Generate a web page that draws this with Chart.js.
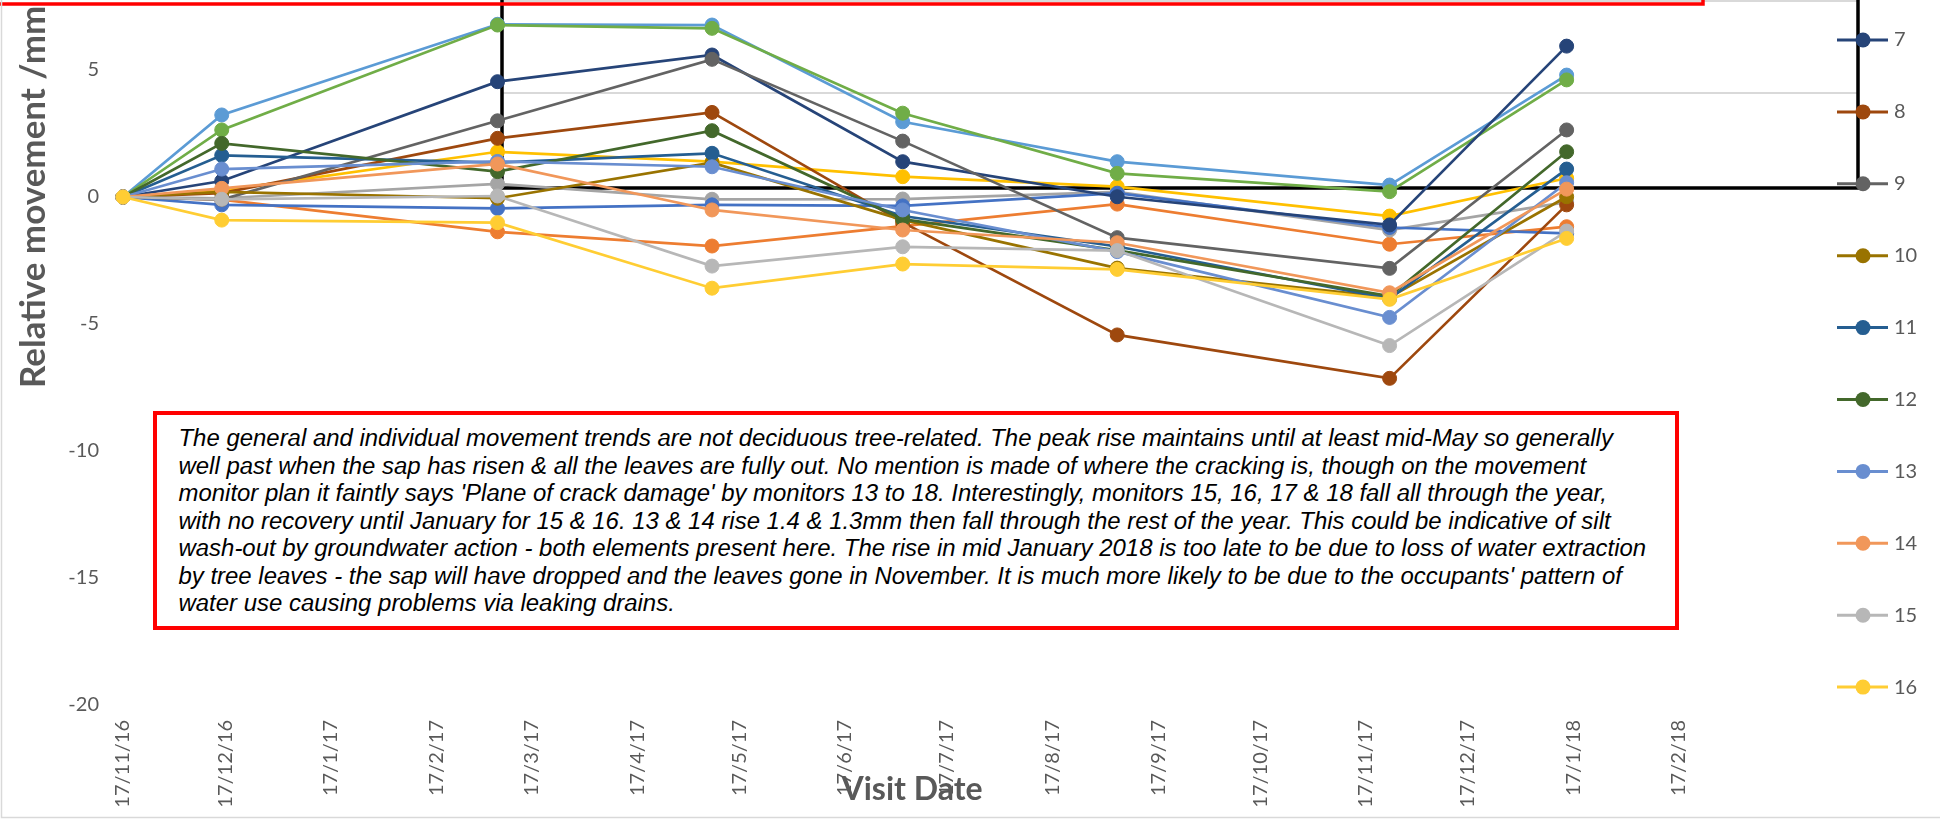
<!DOCTYPE html>
<html>
<head>
<meta charset="utf-8">
<title>Relative movement by visit date</title>
<script src="https://cdn.jsdelivr.net/npm/chart.js@4.4.1/dist/chart.umd.min.js"></script>
<style>
  html, body { margin: 0; padding: 0; background: #fff; width: 1940px; height: 819px; overflow: hidden; }
  #wrap { position: absolute; left: 0; top: -80px; width: 1940px; height: 899px; }
  #note {
    position: absolute; left: 152.5px; top: 410.7px; width: 1526px; height: 219.6px;
    box-sizing: border-box; border: 4px solid #ff0000; background: #fff;
    padding: 9.5px 0 0 22px;
    font: italic 23.95px "Liberation Sans", Arial, sans-serif; color: #000;
    line-height: 27.5px; white-space: pre;
  }
</style>
</head>
<body>
<div id="wrap"><canvas id="chart" width="1940" height="899"></canvas></div>
<div id="note"><div>The general and individual movement trends are not deciduous tree-related. The peak rise maintains until at least mid-May so generally</div><div>well past when the sap has risen &amp; all the leaves are fully out. No mention is made of where the cracking is, though on the movement</div><div>monitor plan it faintly says 'Plane of crack damage' by monitors 13 to 18. Interestingly, monitors 15, 16, 17 &amp; 18 fall all through the year,</div><div>with no recovery until January for 15 &amp; 16. 13 &amp; 14 rise 1.4 &amp; 1.3mm then fall through the rest of the year. This could be indicative of silt</div><div>wash-out by groundwater action - both elements present here. The rise in mid January 2018 is too late to be due to loss of water extraction</div><div>by tree leaves - the sap will have dropped and the leaves gone in November. It is much more likely to be due to the occupants' pattern of</div><div>water use causing problems via leaking drains.</div></div>
<script>
// Visit dates (d/m/yy) and monthly axis ticks
const visitDates = ['17/11/16', '16/12/16', '7/3/17', '9/5/17', '4/7/17', '5/9/17', '24/11/17', '15/1/18'];
const tickDates = ['17/11/16', '17/12/16', '17/1/17', '17/2/17', '17/3/17', '17/4/17', '17/5/17', '17/6/17',
                   '17/7/17', '17/8/17', '17/9/17', '17/10/17', '17/11/17', '17/12/17', '17/1/18', '17/2/18'];
const yTicks = [-20, -15, -10, -5, 0, 5, 10];

// Relative movement (mm) per monitor at each visit
const monitorNames = ['1', '2', '3', '4', '5', '6', '7', '8', '9', '10', '11', '12', '13', '14', '15', '16'];
const monitor1  = [0,  3.23,  6.80,  6.77,  2.96,  1.39,  0.47,  4.80];
const monitor2  = [0, -0.10, -1.37, -1.93, -1.15, -0.28, -1.86, -1.17];
const monitor3  = [0, -0.05,  0.52, -0.09, -0.08,  0.20, -1.30, -0.20];
const monitor4  = [0,  0.25,  1.78,  1.39,  0.80,  0.41, -0.75,  0.74];
const monitor5  = [0, -0.31, -0.45, -0.31, -0.35,  0.15, -1.20, -1.43];
const monitor6  = [0,  2.64,  6.77,  6.64,  3.30,  0.93,  0.21,  4.61];
const monitor7  = [0,  0.63,  4.54,  5.59,  1.39,  0.01, -1.10,  5.94];
const monitor8  = [0,  0.15,  2.31,  3.33, -1.00, -5.43, -7.14, -0.31];
const monitor9  = [0, -0.10,  3.00,  5.42,  2.20, -1.60, -2.81,  2.64];
const monitor10 = [0,  0.20, -0.05,  1.35, -0.90, -2.80, -3.95,  0.01];
const monitor11 = [0,  1.64,  1.35,  1.72, -0.75, -1.95, -4.00,  1.10];
const monitor12 = [0,  2.11,  1.00,  2.61, -0.87, -2.10, -3.90,  1.78];
const monitor13 = [0,  1.10,  1.40,  1.19, -0.51, -2.15, -4.74,  0.56];
const monitor14 = [0,  0.34,  1.30, -0.51, -1.30, -1.80, -3.77,  0.31];
const monitor15 = [0, -0.09,  0.04, -2.72, -1.96, -2.11, -5.85, -1.34];
const monitor16 = [0, -0.91, -1.01, -3.59, -2.64, -2.85, -4.03, -1.63];

const seriesValues = [monitor1, monitor2, monitor3, monitor4, monitor5, monitor6, monitor7, monitor8,
                      monitor9, monitor10, monitor11, monitor12, monitor13, monitor14, monitor15, monitor16];

const seriesColors = ['#5B9BD5', '#ED7D31', '#A5A5A5', '#FFC000', '#4472C4', '#70AD47', '#264478', '#9E480E',
                      '#636363', '#997300', '#255E91', '#43682B', '#698ED0', '#F1975A', '#B7B7B7', '#FFCD33'];

// days since the first visit
const DAY = 86400000;
function dayOf(s) {
  const [d, m, y] = s.split('/').map(Number);
  return (Date.UTC(2000 + y, m - 1, d) - Date.UTC(2016, 10, 17)) / DAY;
}

const TEXT_GREY = '#595959';
const SHIFT = 80; // canvas sits 80px above the page top

function py(pageY) { return pageY + SHIFT; }

// frame lines drawn under the series
const framePlugin = {
  id: 'frame',
  beforeDatasetsDraw(chart) {
    const ctx = chart.ctx;
    ctx.save();
    ctx.lineCap = 'butt';
    ctx.strokeStyle = '#d9d9d9';
    ctx.lineWidth = 2;
    ctx.beginPath();
    ctx.moveTo(502, py(1)); ctx.lineTo(1858, py(1));
    ctx.moveTo(502, py(93)); ctx.lineTo(1858, py(93));
    ctx.stroke();
    ctx.strokeStyle = '#000';
    ctx.lineWidth = 3.5;
    ctx.beginPath();
    ctx.moveTo(502, py(-5)); ctx.lineTo(502, py(188)); ctx.lineTo(1858, py(188)); ctx.lineTo(1858, py(-5));
    ctx.stroke();
    ctx.strokeStyle = '#ff0000';
    ctx.lineWidth = 3.5;
    ctx.beginPath();
    ctx.moveTo(-5, py(4)); ctx.lineTo(1703, py(4)); ctx.lineTo(1703, py(-20));
    ctx.stroke();
    ctx.restore();
  }
};

// axis titles, legend and outer border
const decorPlugin = {
  id: 'decor',
  afterDraw(chart) {
    const ctx = chart.ctx;
    ctx.save();
    // y-axis title
    ctx.fillStyle = TEXT_GREY;
    ctx.font = 'bold 35px Lato';
    ctx.textAlign = 'left';
    ctx.textBaseline = 'alphabetic';
    ctx.translate(45, py(388));
    ctx.rotate(-Math.PI / 2);
    ctx.fillText('Relative movement /mm', 0, 0);
    ctx.restore();

    ctx.save();
    ctx.fillStyle = TEXT_GREY;
    ctx.font = 'bold 32px Lato';
    ctx.textAlign = 'center';
    ctx.textBaseline = 'alphabetic';
    ctx.fillText('Visit Date', 912, py(800));
    ctx.restore();

    // legend, one row per monitor
    ctx.save();
    chart.data.datasets.forEach((ds, i) => {
      const y = py(40 + (i - 6) * 71.9);
      ctx.strokeStyle = ds.borderColor;
      ctx.lineWidth = 3;
      ctx.beginPath();
      ctx.moveTo(1837, y); ctx.lineTo(1888, y);
      ctx.stroke();
      ctx.fillStyle = ds.borderColor;
      ctx.beginPath();
      ctx.arc(1863, y, 7.5, 0, Math.PI * 2);
      ctx.fill();
      ctx.fillStyle = TEXT_GREY;
      ctx.font = '20px Lato';
      ctx.textAlign = 'left';
      ctx.textBaseline = 'middle';
      ctx.fillText(ds.label, 1894, y);
    });
    ctx.restore();

    // chart border
    ctx.save();
    ctx.strokeStyle = '#d9d9d9';
    ctx.lineWidth = 1.5;
    ctx.beginPath();
    ctx.moveTo(1.5, 0); ctx.lineTo(1.5, py(817.5)); ctx.lineTo(1940, py(817.5));
    ctx.stroke();
    ctx.restore();
  }
};

const datasets = seriesValues.map((vals, i) => ({
  label: monitorNames[i],
  data: vals.map((v, j) => ({ x: dayOf(visitDates[j]), y: v })),
  borderColor: seriesColors[i],
  backgroundColor: seriesColors[i],
  pointBackgroundColor: seriesColors[i],
  pointBorderColor: seriesColors[i],
  borderWidth: 2.7,
  pointRadius: 7,
  pointBorderWidth: 1,
  tension: 0,
  clip: false,
  order: seriesValues.length - 1 - i
}));

new Chart(document.getElementById('chart'), {
  type: 'line',
  data: { datasets },
  options: {
    responsive: false,
    devicePixelRatio: 1,
    animation: false,
    events: [],
    layout: { padding: { left: 0, right: 261, top: 23, bottom: 0 } },
    plugins: { legend: { display: false }, tooltip: { enabled: false } },
    scales: {
      x: {
        type: 'linear',
        min: dayOf(tickDates[0]),
        max: dayOf(tickDates[tickDates.length - 1]),
        grid: { display: false, drawTicks: false },
        border: { display: false },
        afterBuildTicks: s => { s.ticks = tickDates.map(t => ({ value: dayOf(t) })); },
        afterFit: s => { s.height = 114; s.paddingLeft = 0; s.paddingRight = 0; },
        ticks: {
          autoSkip: false, minRotation: 90, maxRotation: 90, padding: 15,
          color: TEXT_GREY, font: { family: 'Lato', size: 20 },
          callback: (v, idx) => tickDates[idx]
        }
      },
      y: {
        min: yTicks[0],
        max: yTicks[yTicks.length - 1],
        grid: { display: false, drawTicks: false },
        border: { display: false },
        afterBuildTicks: s => { s.ticks = yTicks.map(v => ({ value: v })); },
        afterFit: s => { s.width = 123; s.paddingTop = 0; s.paddingBottom = 0; },
        ticks: { padding: 24, color: TEXT_GREY, font: { family: 'Lato', size: 20 } }
      }
    }
  },
  plugins: [framePlugin, decorPlugin]
});
</script>
</body>
</html>
